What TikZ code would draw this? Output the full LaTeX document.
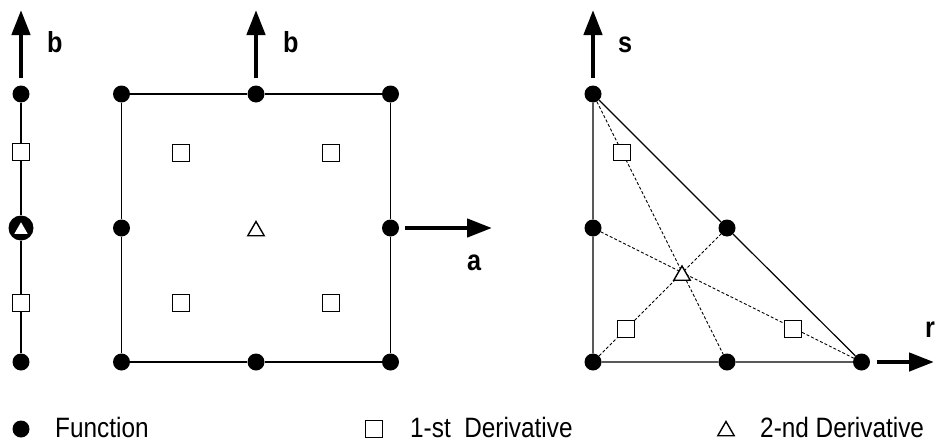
\documentclass[tikz,border=0pt]{standalone}
\usepackage{fontspec}
\setmainfont{Liberation Sans}[FakeStretch=0.87]
\usetikzlibrary{arrows.meta,shapes.geometric}

\tikzset{
  fn/.style={circle, fill=black, inner sep=0pt, minimum size=17pt},
  der/.style={rectangle, draw, fill=white, line width=1.4pt, inner sep=0pt, minimum size=16.5pt},
  sec/.style={regular polygon, regular polygon sides=3, draw, fill=white, line width=1.4pt, inner sep=0pt, minimum size=19pt},
  edge/.style={line width=1.2pt},
  med/.style={line width=0.9pt, dash pattern=on 3pt off 2pt},
  axis/.style={line width=4.5pt, -{Triangle[length=25pt,width=18pt]}},
  lbl/.style={font=\fontsize{29}{29}\selectfont\bfseries, anchor=base west, inner sep=0pt},
  key/.style={font=\fontsize{28}{28}\selectfont, anchor=base west, inner sep=0pt}
}

\begin{document}
\begin{tikzpicture}[x=1pt, y=-1pt]
    \useasboundingbox (0,0) rectangle (935,442);

    % line element
    \node[fn] (L1) at (21,94) {};
    \node[der] (L2) at (21,152) {};
    \node[fn, minimum size=25pt] (L3) at (21,228) {};
    \node[regular polygon, regular polygon sides=3, fill=white, inner sep=0pt, minimum size=15.5pt] (L3t) at (21,230) {};
    \node[der] (L4) at (21,303) {};
    \node[fn] (L5) at (21,362) {};
    \draw[edge] (L1) -- (L2) -- (L3) -- (L4) -- (L5);

    % square element
    \foreach \x/\y/\n in {121.5/94/Q1, 256/94/Q2, 390.5/94/Q3, 121.5/228/Q4, 390.5/228/Q6, 121.5/362/Q7, 256/362/Q8, 390.5/362/Q9}
        \node[fn] (\n) at (\x,\y) {};
    \foreach \x/\y/\n in {181/153/D1, 331/153/D2, 181/303/D3, 331/303/D4}
        \node[der] (\n) at (\x,\y) {};
    \node[sec] (Q5) at (256,231) {};
    \draw[edge] (Q1) -- (Q2) -- (Q3) -- (Q6) -- (Q9) -- (Q8) -- (Q7) -- (Q4) -- (Q1);

    % triangle element
    \foreach \x/\y/\n in {593/94/ta, 593/228/tb, 593/362/tc, 727/362/td, 861.5/362/te, 727/228/tf}
        \node[fn] (\n) at (\x,\y) {};
    \draw[med] (ta) -- (td);
    \draw[med] (tb) -- (te);
    \draw[med] (tc) -- (tf);
    \node[der] (s1) at (622,152.5) {};
    \node[der] (s2) at (626,329) {};
    \node[der] (s3) at (793,329) {};
    \node[sec] (tg) at (682,275.5) {};
    \draw[edge] (ta) -- (tb) -- (tc) -- (td) -- (te) -- (tf) -- (ta);

    % axes
    \coordinate (bL) at (21,10);
    \coordinate (bQ) at (256,10);
    \coordinate (aQ) at (492,228);
    \coordinate (sT) at (593,10);
    \coordinate (rT) at (934,362);
    \draw[axis, shorten <=7pt] (L1) -- (bL);
    \draw[axis, shorten <=7pt] (Q2) -- (bQ);
    \draw[axis, shorten <=6pt] (Q6) -- (aQ);
    \draw[axis, shorten <=7pt] (ta) -- (sT);
    \draw[axis, shorten <=7pt] (te) -- (rT);
    \node[lbl] (lb1) at (47,52) {b};
    \node[lbl] (lb2) at (283,52) {b};
    \node[lbl] (la) at (467,270) {a};
    \node[lbl] (ls) at (618,52) {s};
    \node[lbl] (lr) at (925,337) {r};

    % legend
    \node[fn] (kf) at (21,429) {};
    \node[key] (tf1) at (55,437.5) {Function};
    \node[der] (kd) at (374,429) {};
    \node[key] (td1) at (410,437.5) {1-st\ \ Derivative};
    \node[sec] (ks) at (726,431) {};
    \node[key] (ts1) at (760,437.5) {2-nd Derivative};
\end{tikzpicture}
\end{document}
